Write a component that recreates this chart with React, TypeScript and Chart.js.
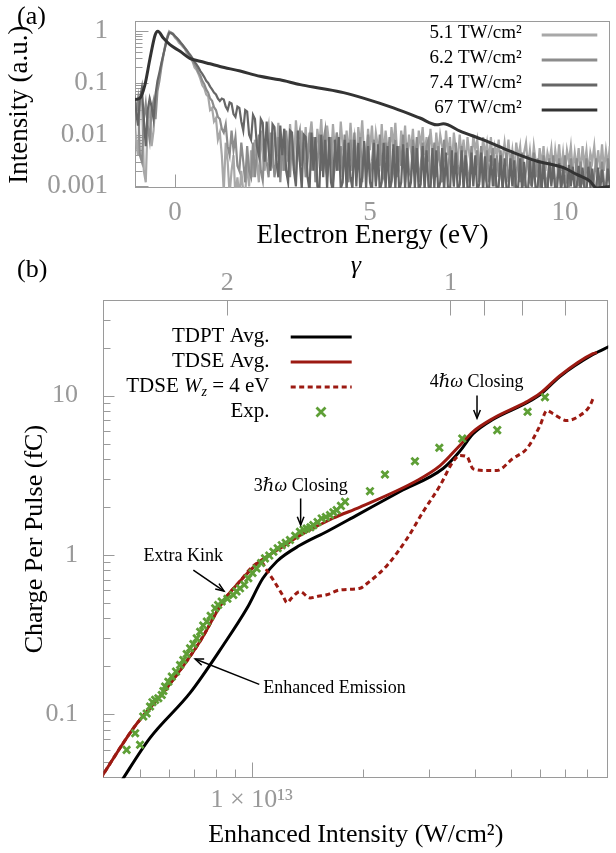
import React, { useEffect, useRef } from 'react';
import { Chart, registerables } from 'chart.js';

Chart.register(...registerables);

const SERIF = "'Liberation Serif', 'DejaVu Serif', serif";
const TICK_GRAY = '#999999';
const FRAME_GRAY = '#9a9a9a';

// ---------------- Panel (a): photoelectron spectra ----------------
const energyStart = -1.05; // eV, first sample of the measured spectra
const energyStep = 0.05; // eV between samples
const spectrum51 = [
  0.03, 0.008, 0.004, 0.04, 0.06, 0.002, 0.0012, 0.02, 0.035, 0.006,
  0.012, 0.05, 0.09, 0.14, 0.23, 0.35, 0.55, 0.8, 1.0, 0.93,
  0.86, 0.75, 0.69, 0.6, 0.56, 0.5, 0.46, 0.38, 0.34, 0.3,
  0.26, 0.2, 0.18, 0.15, 0.12, 0.09, 0.08, 0.06, 0.055, 0.03,
  0.033, 0.018, 0.021, 0.008, 0.011, 0.004, 0.0008, 0.007, 0.003, 0.0007,
  0.002, 0.004, 0.0006, 0.0015, 0.0006, 0.002, 0.0008, 0.0007, 0.003, 0.001,
  0.005,
  0.0015, 0.008, 0.003, 0.0012, 0.012, 0.004, 0.002, 0.009, 0.015, 0.003,
  0.0025, 0.011, 0.005, 0.017, 0.004, 0.002, 0.013, 0.006, 0.003, 0.016,
  0.005, 0.0025, 0.019, 0.007, 0.003, 0.012, 0.004, 0.014, 0.0035, 0.009,
  0.018, 0.005, 0.003, 0.013, 0.006, 0.02, 0.004, 0.0025, 0.015, 0.007,
  0.003, 0.016, 0.005, 0.011, 0.0035, 0.018, 0.006, 0.003, 0.012, 0.004,
  0.017, 0.005, 0.009, 0.0025, 0.014, 0.006, 0.019, 0.004, 0.003, 0.013,
  0.005, 0.015, 0.0035, 0.011, 0.006, 0.0025, 0.016, 0.004, 0.012, 0.005,
  0.003, 0.014, 0.006, 0.017, 0.004, 0.0025, 0.012, 0.005, 0.015, 0.003,
  0.01, 0.005, 0.013, 0.0035, 0.0025, 0.012, 0.006, 0.014, 0.004, 0.009,
  0.003, 0.013, 0.005, 0.0025, 0.011, 0.004, 0.01, 0.006, 0.003, 0.012,
  0.004, 0.009, 0.0025, 0.011, 0.005, 0.003, 0.01, 0.004, 0.008, 0.0025,
  0.009, 0.004, 0.0025, 0.01, 0.005, 0.008, 0.003, 0.0025, 0.009, 0.004,
  0.007, 0.003, 0.009, 0.0025, 0.006, 0.004, 0.008, 0.002, 0.0035, 0.007,
  0.003, 0.008, 0.0025, 0.005, 0.002, 0.007, 0.0035, 0.006, 0.002, 0.0045,
  0.007, 0.0025, 0.005, 0.002, 0.006, 0.003, 0.0018, 0.0055, 0.0025, 0.006,
  0.002, 0.0045, 0.003, 0.0055, 0.0018, 0.005, 0.0025, 0.0065, 0.002, 0.0045,
  0.0018, 0.005, 0.003, 0.006, 0.002, 0.0045, 0.0022, 0.0055, 0.0018, 0.006,
  0.0025, 0.005, 0.0018, 0.0045, 0.003, 0.006, 0.002, 0.005, 0.0022, 0.0065,
  0.002, 0.005, 0.0025, 0.006,
];
const spectrum62 = [
  0.01, 0.03, 0.05, 0.004, 0.003, 0.02, 0.04, 0.015, 0.008, 0.03,
  0.045, 0.02, 0.07, 0.11, 0.2, 0.33, 0.52, 0.75, 0.97, 0.95,
  0.9, 0.8, 0.72, 0.65, 0.58, 0.53, 0.47, 0.42, 0.36, 0.31,
  0.27, 0.23, 0.2, 0.16, 0.14, 0.11, 0.095, 0.075, 0.065, 0.05,
  0.045, 0.034, 0.03, 0.022, 0.02, 0.013, 0.011, 0.016, 0.006, 0.004,
  0.012, 0.005, 0.009, 0.0025, 0.002, 0.007, 0.003, 0.0012, 0.006, 0.002,
  0.0015,
  0.007, 0.0015, 0.005, 0.01, 0.002, 0.0013, 0.008, 0.003, 0.0015, 0.011,
  0.006, 0.0015, 0.003, 0.009, 0.0012, 0.008, 0.002, 0.012, 0.004, 0.0015,
  0.01, 0.002, 0.0015, 0.008, 0.012, 0.0025, 0.007, 0.0015, 0.003, 0.011,
  0.002, 0.009, 0.0012, 0.0025, 0.01, 0.002, 0.007, 0.012, 0.0015, 0.003,
  0.009, 0.0012, 0.0025, 0.011, 0.002, 0.006, 0.0015, 0.01, 0.003, 0.0012,
  0.008, 0.002, 0.011, 0.0015, 0.003, 0.009, 0.0012, 0.007, 0.002, 0.01,
  0.0015, 0.003, 0.008, 0.0012, 0.0025, 0.01, 0.002, 0.0015, 0.007, 0.0025,
  0.009, 0.0012, 0.002, 0.008, 0.0015, 0.006, 0.0025, 0.01, 0.0012, 0.007,
  0.002, 0.0015, 0.008, 0.0025, 0.009, 0.0012, 0.0025, 0.007, 0.0015, 0.006,
  0.008, 0.0012, 0.002, 0.007, 0.0015, 0.006, 0.0025, 0.0012, 0.008, 0.002,
  0.0015, 0.006, 0.002, 0.0012, 0.007, 0.0025, 0.0015, 0.006, 0.0012, 0.005,
  0.002, 0.0012, 0.006, 0.0015, 0.0025, 0.005, 0.0012, 0.006, 0.002, 0.0015,
  0.005, 0.0012, 0.0025, 0.0055, 0.001, 0.004, 0.0015, 0.005, 0.001, 0.002,
  0.0045, 0.0012, 0.0025, 0.005, 0.001, 0.0015, 0.004, 0.0012, 0.0045, 0.001,
  0.002, 0.004, 0.0012, 0.001, 0.0045, 0.0015, 0.0035, 0.001, 0.0012, 0.004,
  0.0015, 0.001, 0.0035, 0.0012, 0.004, 0.001, 0.0015, 0.0035, 0.001, 0.0012,
  0.004, 0.0012, 0.001, 0.0035, 0.0015, 0.0012, 0.0035, 0.001, 0.003, 0.0012,
  0.001, 0.0035, 0.0012, 0.003, 0.001, 0.0015, 0.0035, 0.001, 0.0012, 0.003,
  0.0012, 0.001, 0.0035, 0.0012,
];
const spectrum74 = [
  0.06, 0.03, 0.015, 0.05, 0.08, 0.02, 0.006, 0.03, 0.05, 0.035,
  0.02, 0.06, 0.11, 0.16, 0.24, 0.35, 0.5, 0.72, 0.93, 0.92,
  0.88, 0.8, 0.74, 0.67, 0.6, 0.54, 0.48, 0.43, 0.38, 0.34,
  0.3, 0.26, 0.23, 0.2, 0.17, 0.15, 0.13, 0.11, 0.1, 0.085,
  0.075, 0.065, 0.06, 0.05, 0.045, 0.05, 0.048, 0.035, 0.03, 0.042,
  0.04, 0.025, 0.022, 0.035, 0.033, 0.018, 0.012, 0.03, 0.028, 0.01,
  0.008,
  0.024, 0.02, 0.006, 0.004, 0.02, 0.017, 0.003, 0.018, 0.005, 0.002,
  0.016, 0.014, 0.003, 0.0015, 0.015, 0.004, 0.013, 0.002, 0.0012, 0.012,
  0.011, 0.002, 0.001, 0.012, 0.003, 0.0009, 0.01, 0.009, 0.0015, 0.0008,
  0.011, 0.002, 0.009, 0.001, 0.0008, 0.01, 0.0015, 0.008, 0.0009, 0.009,
  0.0012, 0.0008, 0.008, 0.002, 0.009, 0.0009, 0.0012, 0.008, 0.0008, 0.007,
  0.0015, 0.0009, 0.008, 0.001, 0.007, 0.0008, 0.0015, 0.0075, 0.0009, 0.006,
  0.0012, 0.0008, 0.007, 0.001, 0.0065, 0.0008, 0.0012, 0.007, 0.0009, 0.006,
  0.0008, 0.0013, 0.0065, 0.0009, 0.006, 0.0008, 0.0012, 0.0065, 0.0009, 0.0055,
  0.0008, 0.0012, 0.006, 0.0009, 0.0055, 0.0008, 0.0011, 0.006, 0.0008, 0.005,
  0.001, 0.0008, 0.0055, 0.0009, 0.005, 0.0008, 0.0012, 0.0055, 0.0008, 0.0045,
  0.0009, 0.0008, 0.005, 0.001, 0.0045, 0.0008, 0.0011, 0.005, 0.0008, 0.004,
  0.0009, 0.0008, 0.0045, 0.001, 0.004, 0.0008, 0.0011, 0.0045, 0.0008, 0.0038,
  0.0009, 0.0008, 0.004, 0.001, 0.0035, 0.0008, 0.001, 0.004, 0.0008, 0.0035,
  0.0009, 0.0008, 0.0035, 0.001, 0.0032, 0.0008, 0.001, 0.0035, 0.0008, 0.003,
  0.0009, 0.0008, 0.0032, 0.001, 0.003, 0.0008, 0.001, 0.003, 0.0008, 0.0028,
  0.0009, 0.0008, 0.003, 0.001, 0.0027, 0.0008, 0.001, 0.0028, 0.0008, 0.0025,
  0.0009, 0.0008, 0.0026, 0.001, 0.0024, 0.0008, 0.001, 0.0025, 0.0008, 0.0023,
  0.0009, 0.0008, 0.0024, 0.001, 0.0022, 0.0008, 0.001, 0.0023, 0.0008, 0.0021,
  0.0009, 0.0008, 0.0022, 0.001,
];
const energy67 = [
  -1.1, -1.03, -0.9, -0.77, -0.64, -0.51, -0.44, -0.3, -0.13, 0.13,
  0.38, 0.64, 0.9, 1.15, 1.67, 2.18, 2.69, 3.21, 3.72, 4.32,
  4.83, 5.6, 6.28, 6.71, 6.88, 7.31, 7.91, 8.59, 9.27, 9.96,
  10.3, 10.64, 10.81, 11.15,
];
const spectrum67 = [
  0.05, 0.048, 0.051, 0.093, 0.3, 0.85, 1.0, 0.74, 0.55, 0.41,
  0.3, 0.263, 0.235, 0.209, 0.17, 0.135, 0.115, 0.093, 0.079, 0.065,
  0.051, 0.033, 0.021, 0.0155, 0.0162, 0.0117, 0.0079, 0.0048, 0.0031, 0.0023,
  0.0017, 0.00126, 0.00093, 0.001,
];
const legendA = ['5.1 TW/cm²', '6.2 TW/cm²', '7.4 TW/cm²', '67 TW/cm²'];
const colorsA = ['#a8a8a8', '#8c8c8c', '#666666', '#333333'];
const energyTicks = [0, 5, 10];
const yieldTicksA = [0.001, 0.01, 0.1, 1];

// ---------------- Panel (b): charge vs enhanced intensity ----------------
// intensities in units of 10^12 W/cm², charge in fC
const tdptIntensity = [4.37, 5.32, 6.82, 8.38, 9.71, 10.72, 11.7, 13.49, 15.96, 19.23, 25.12, 32.81, 36.39, 39.54, 44.67, 55.21, 59.84, 67.76, 83.18, 92.5];
const tdptCharge = [0.0355, 0.071, 0.136, 0.271, 0.462, 0.713, 0.912, 1.148, 1.403, 1.778, 2.5, 3.483, 4.467, 5.754, 7.08, 9.02, 10.12, 13.18, 18.11, 20.42];

const tdseIntensity = [3.9, 4.79, 5.9, 7.26, 8.38, 9.29, 10.52, 11.91, 13.49, 16.56, 19.59, 27.93, 32.21, 36.39, 39.54, 44.67, 55.21, 59.84, 67.76, 83.18, 85.3];
const tdseCharge = [0.039, 0.0813, 0.1456, 0.287, 0.513, 0.682, 0.912, 1.096, 1.324, 1.698, 1.995, 2.931, 3.631, 4.864, 5.943, 7.178, 9.162, 10.3, 13.34, 18.32, 18.62];

const wz4Intensity = [3.9, 4.79, 5.9, 7.26, 8.38, 9.29, 10.21, 10.66, 10.93, 11.43, 12.16, 12.44, 12.82, 13.49, 14.36, 15.1, 15.93, 17.3, 19.59, 20.46, 23.17, 26.24, 28.97, 32.21, 34.91, 36.39, 38.02, 39.54, 43.05, 45.81, 50.58, 55.21, 59.84, 62.52, 64.86, 70.79, 76.74, 81.66, 83.18];
const wz4Charge = [0.039, 0.0813, 0.1456, 0.287, 0.513, 0.682, 0.871, 0.891, 0.813, 0.697, 0.55, 0.501, 0.537, 0.589, 0.537, 0.55, 0.562, 0.603, 0.617, 0.661, 0.859, 1.268, 1.862, 2.729, 3.855, 4.207, 4.14, 3.467, 3.388, 3.388, 4.027, 4.656, 6.457, 8.054, 7.709, 6.966, 7.499, 8.65, 9.55];

const expIntensity = [
  4.6, 5.0, 4.85, 5.1, 5.21, 5.32, 5.4, 5.49, 5.6, 5.72,
  5.78, 5.84, 5.96, 6.09, 6.25, 6.41, 6.54, 6.68, 6.82, 6.96,
  7.11, 7.26, 7.4, 7.57, 7.75, 7.97, 8.12, 8.3, 8.6, 8.92,
  9.1, 9.3, 9.55, 9.79, 10.05, 10.31, 10.6, 10.86, 11.15, 11.44,
  11.75, 12.05, 12.35, 12.68, 13.1, 13.49, 13.8, 14.07, 14.4, 14.66,
  15.05, 15.44, 15.85, 16.26, 16.6, 16.95, 17.4, 17.85, 20.84, 22.87,
  27.55, 32.05, 36.95, 45.92, 55.43, 61.75,
];
const expCharge = [
  0.0597, 0.0643, 0.076, 0.0968, 0.101, 0.1117, 0.119, 0.123, 0.126, 0.1321,
  0.14, 0.1493, 0.16, 0.1722, 0.185, 0.2037, 0.2188, 0.239, 0.2594, 0.276,
  0.2992, 0.3296, 0.36, 0.3811, 0.415, 0.4624, 0.485, 0.5093, 0.53, 0.5598,
  0.59, 0.6166, 0.65, 0.7129, 0.77, 0.8222, 0.89, 0.9506, 0.99, 1.047,
  1.1, 1.151, 1.19, 1.239, 1.32, 1.396, 1.44, 1.466, 1.49, 1.538,
  1.61, 1.694, 1.73, 1.778, 1.85, 1.91, 2.03, 2.158, 2.512, 3.199,
  3.873, 4.699, 5.37, 6.067, 7.907, 9.75,
];

const chargeTicks = [0.1, 1, 10];
const intensityTicksB = [5, 6, 7, 8, 9, 10, 20, 30, 40, 50, 60, 70, 80];
const intensityLabelsB: Record<number, string> = { 10: '1 × 10¹³' };
const gammaTicks = [2, 1, 0.9, 0.8, 0.7];
const gammaLabeled = [2, 1];
const gammaOneIntensity = 34.35; // 10^12 W/cm² where Keldysh γ = 1

const RED = '#9c1a12';
const GREEN = '#5e9f36';

type Part = { t: string; italic?: boolean; sub?: boolean };

const annotationsB: { parts: Part[]; at: [number, number]; align: 'left' | 'center'; from: [number, number]; to: [number, number] }[] = [
  { parts: [{ t: '4' }, { t: 'ℏω', italic: true }, { t: ' Closing' }], at: [40.4, 12.2], align: 'center', from: [40.5, 10.0], to: [40.5, 7.2] },
  { parts: [{ t: '3' }, { t: 'ℏω', italic: true }, { t: ' Closing' }], at: [13.56, 2.68], align: 'center', from: [13.55, 2.26], to: [13.55, 1.54] },
  { parts: [{ t: 'Extra Kink' }], at: [6.54, 0.974], align: 'center', from: [6.96, 0.803], to: [8.42, 0.593] },
  { parts: [{ t: 'Enhanced Emission' }], at: [10.75, 0.1456], align: 'left', from: [10.48, 0.154], to: [7.04, 0.222] },
];

const legendB: { parts: Part[]; kind: 'line' | 'dash' | 'cross'; color: string }[] = [
  { parts: [{ t: 'TDPT Avg.' }], kind: 'line', color: '#000000' },
  { parts: [{ t: 'TDSE Avg.' }], kind: 'line', color: RED },
  { parts: [{ t: 'TDSE ' }, { t: 'W', italic: true }, { t: 'z', italic: true, sub: true }, { t: ' = 4 eV' }], kind: 'dash', color: RED },
  { parts: [{ t: 'Exp.' }], kind: 'cross', color: GREEN },
];

// ---------------- helpers ----------------
const toXY = (xs: number[], ys: number[]) => xs.map((x, i) => ({ x, y: ys[i] }));

function minorLog(from: number, to: number): number[] {
  const out: number[] = [];
  for (let d = Math.floor(Math.log10(from)); d <= Math.ceil(Math.log10(to)); d++) {
    for (let k = 2; k <= 9; k++) {
      const v = k * Math.pow(10, d);
      if (v > from && v < to) out.push(v);
    }
  }
  return out;
}

function drawRich(ctx: CanvasRenderingContext2D, parts: Part[], x: number, y: number, size: number, align: 'left' | 'right' | 'center') {
  const fontFor = (p: Part) => `${p.italic ? 'italic ' : ''}${p.sub ? Math.round(size * 0.68) : size}px ${SERIF}`;
  const widths = parts.map((p) => {
    ctx.font = fontFor(p);
    return ctx.measureText(p.t).width;
  });
  const total = widths.reduce((a, b) => a + b, 0);
  let cx = align === 'left' ? x : align === 'right' ? x - total : x - total / 2;
  ctx.textAlign = 'left';
  ctx.textBaseline = 'middle';
  parts.forEach((p, i) => {
    ctx.font = fontFor(p);
    ctx.fillText(p.t, cx, p.sub ? y + size * 0.28 : y);
    cx += widths[i];
  });
}

function drawArrow(ctx: CanvasRenderingContext2D, x1: number, y1: number, x2: number, y2: number) {
  ctx.beginPath();
  ctx.moveTo(x1, y1);
  ctx.lineTo(x2, y2);
  ctx.stroke();
  const ang = Math.atan2(y2 - y1, x2 - x1);
  const L = 9;
  const w = 0.38;
  ctx.beginPath();
  ctx.moveTo(x2 - L * Math.cos(ang - w), y2 - L * Math.sin(ang - w));
  ctx.lineTo(x2, y2);
  ctx.lineTo(x2 - L * Math.cos(ang + w), y2 - L * Math.sin(ang + w));
  ctx.stroke();
}

type TickSpec = { scale: string; side: 'left' | 'bottom' | 'top'; values: number[]; len: number };

function drawFrame(chart: any, specs: TickSpec[]) {
  const { ctx, chartArea: a } = chart;
  ctx.save();
  ctx.strokeStyle = FRAME_GRAY;
  ctx.lineWidth = 1;
  const L = Math.round(a.left) + 0.5;
  const R = Math.round(a.right) - 0.5;
  const T = Math.round(a.top) + 0.5;
  const B = Math.round(a.bottom) - 0.5;
  ctx.strokeRect(L, T, R - L, B - T);
  ctx.beginPath();
  for (const s of specs) {
    const sc = chart.scales[s.scale];
    for (const v of s.values) {
      const p = Math.round(sc.getPixelForValue(v)) + 0.5;
      if (s.side === 'left') {
        if (p < T || p > B) continue;
        ctx.moveTo(L, p);
        ctx.lineTo(L + s.len, p);
      } else if (s.side === 'bottom') {
        if (p < L || p > R) continue;
        ctx.moveTo(p, B);
        ctx.lineTo(p, B - s.len);
      } else {
        if (p < L || p > R) continue;
        ctx.moveTo(p, T);
        ctx.lineTo(p, T + s.len);
      }
    }
  }
  ctx.stroke();
  ctx.restore();
}

const tickFont = (size: number) => ({ family: SERIF, size, lineHeight: 1.2 });
const hiddenGrid = (len: number) => ({ display: true, drawOnChartArea: false, drawTicks: true, tickLength: len, color: 'rgba(0,0,0,0)' });

export default function App() {
  const refA = useRef<HTMLCanvasElement>(null);
  const refB = useRef<HTMLCanvasElement>(null);

  useEffect(() => {
    const energyGrid = spectrum51.map((_, i) => +(energyStart + i * energyStep).toFixed(3));

    const chartA = new Chart(refA.current as HTMLCanvasElement, {
      type: 'line',
      data: {
        datasets: [
          { label: legendA[0], data: toXY(energyGrid, spectrum51), borderColor: colorsA[0], borderWidth: 2.2, pointRadius: 0, tension: 0, order: 3 },
          { label: legendA[1], data: toXY(energyGrid, spectrum62), borderColor: colorsA[1], borderWidth: 2.2, pointRadius: 0, tension: 0, order: 2 },
          { label: legendA[2], data: toXY(energyGrid, spectrum74), borderColor: colorsA[2], borderWidth: 2.2, pointRadius: 0, tension: 0, order: 1 },
          { label: legendA[3], data: toXY(energy67, spectrum67), borderColor: colorsA[3], borderWidth: 3, pointRadius: 0, cubicInterpolationMode: 'monotone', order: 0 },
        ] as any,
      },
      options: {
        animation: false,
        responsive: false,
        devicePixelRatio: 1,
        events: [],
        layout: { padding: { top: 21.3, right: 6, left: 0, bottom: 0 } },
        plugins: { legend: { display: false }, tooltip: { enabled: false } },
        scales: {
          x: {
            type: 'linear',
            min: -1.026,
            max: 11.154,
            afterBuildTicks: (s: any) => { s.ticks = energyTicks.map((v) => ({ value: v })); },
            afterFit: (s: any) => { s.height = 67; },
            ticks: { callback: (v: any) => String(v), font: tickFont(27), color: TICK_GRAY, padding: 0, autoSkip: false, maxRotation: 0, minRotation: 0 },
            grid: hiddenGrid(9),
            border: { display: false },
            title: { display: true, text: 'Electron Energy (eV)', font: tickFont(27), color: '#000', padding: { top: 0, bottom: 2.8 } },
          },
          y: {
            type: 'logarithmic',
            min: 0.00093,
            max: 1.56,
            afterBuildTicks: (s: any) => { s.ticks = yieldTicksA.map((v) => ({ value: v })); },
            afterFit: (s: any) => { s.width = 135; },
            ticks: { callback: (v: any) => String(v), font: tickFont(27), color: TICK_GRAY, padding: 0, autoSkip: false },
            grid: hiddenGrid(27),
            border: { display: false },
            title: { display: true, text: 'Intensity (a.u.)', font: tickFont(27), color: '#000', padding: { top: 3.8, bottom: 0 } },
          },
        },
      } as any,
      plugins: [
        {
          id: 'decorA',
          beforeDatasetsDraw(chart: any) {
            drawFrame(chart, [
              { scale: 'x', side: 'bottom', values: energyTicks, len: 13 },
              { scale: 'y', side: 'left', values: yieldTicksA, len: 13 },
              { scale: 'y', side: 'left', values: minorLog(0.001, 1), len: 7 },
            ]);
          },
          afterDraw(chart: any) {
            const ctx = chart.ctx as CanvasRenderingContext2D;
            ctx.save();
            ctx.fillStyle = '#000';
            drawRich(ctx, [{ t: '(a)' }], 17, 17, 26, 'left');
            legendA.forEach((label, i) => {
              const y = 33 + i * 25;
              drawRich(ctx, [{ t: label }], 521.7, y, 19, 'right');
              ctx.strokeStyle = colorsA[i];
              ctx.lineWidth = 3;
              ctx.beginPath();
              ctx.moveTo(541.7, y + 2);
              ctx.lineTo(597.3, y + 2);
              ctx.stroke();
            });
            ctx.restore();
          },
        },
      ],
    });

    const gammaIntensities = gammaTicks.map((g) => gammaOneIntensity / (g * g));

    const chartB = new Chart(refB.current as HTMLCanvasElement, {
      type: 'line',
      data: {
        datasets: [
          { label: 'Exp.', data: toXY(expIntensity, expCharge), showLine: false, pointStyle: 'crossRot', pointRadius: 5, pointBorderWidth: 2.8, pointBorderColor: GREEN, pointBackgroundColor: GREEN, borderColor: GREEN, order: 0 },
          { label: 'TDSE Avg.', data: toXY(tdseIntensity, tdseCharge), borderColor: RED, borderWidth: 3, pointRadius: 0, cubicInterpolationMode: 'monotone', order: 1 },
          { label: 'TDSE Wz = 4 eV', data: toXY(wz4Intensity, wz4Charge), borderColor: RED, borderWidth: 3, borderDash: [5, 3.5], pointRadius: 0, cubicInterpolationMode: 'monotone', order: 2 },
          { label: 'TDPT Avg.', data: toXY(tdptIntensity, tdptCharge), borderColor: '#000', borderWidth: 3, pointRadius: 0, cubicInterpolationMode: 'monotone', order: 3 },
        ] as any,
      },
      options: {
        animation: false,
        responsive: false,
        devicePixelRatio: 1,
        events: [],
        layout: { padding: { top: 0, right: 7.7, left: 0, bottom: 0 } },
        plugins: { legend: { display: false }, tooltip: { enabled: false } },
        scales: {
          x: {
            type: 'logarithmic',
            position: 'bottom',
            min: 3.98,
            max: 91.44,
            afterBuildTicks: (s: any) => { s.ticks = intensityTicksB.map((v) => ({ value: v })); },
            afterFit: (s: any) => { s.height = 74.7; },
            ticks: { callback: (v: any) => intensityLabelsB[v] || '', font: tickFont(26), color: TICK_GRAY, padding: 0, autoSkip: false, maxRotation: 0, minRotation: 0 },
            grid: hiddenGrid(6.1),
            border: { display: false },
            title: { display: true, text: 'Enhanced Intensity (W/cm²)', font: tickFont(26), color: '#000', padding: { top: 0, bottom: 2.4 } },
          },
          x2: {
            type: 'logarithmic',
            position: 'top',
            min: 3.98,
            max: 91.44,
            afterBuildTicks: (s: any) => { s.ticks = gammaIntensities.map((v) => ({ value: v })); },
            afterFit: (s: any) => { s.height = 50; },
            ticks: {
              callback: (v: any) => {
                const g = Math.sqrt(gammaOneIntensity / v);
                const hit = gammaLabeled.find((q) => Math.abs(q - g) < 1e-3);
                return hit !== undefined ? String(hit) : '';
              },
              font: tickFont(26), color: TICK_GRAY, padding: 0, autoSkip: false, maxRotation: 0, minRotation: 0,
            },
            grid: hiddenGrid(1.4),
            border: { display: false },
            title: { display: true, text: 'γ', font: { family: SERIF, size: 26, style: 'italic', lineHeight: 1.2 }, color: '#000', padding: { top: 0.4, bottom: 0 } },
          },
          y: {
            type: 'logarithmic',
            min: 0.0396,
            max: 39.8,
            afterBuildTicks: (s: any) => { s.ticks = chargeTicks.map((v) => ({ value: v })); },
            afterFit: (s: any) => { s.width = 103.3; },
            ticks: { callback: (v: any) => String(v), font: tickFont(26), color: TICK_GRAY, padding: 0, autoSkip: false },
            grid: hiddenGrid(25.3),
            border: { display: false },
            title: { display: true, text: 'Charge Per Pulse (fC)', font: tickFont(26), color: '#000', padding: { top: 19.4, bottom: 0 } },
          },
        },
      } as any,
      plugins: [
        {
          id: 'decorB',
          beforeDatasetsDraw(chart: any) {
            drawFrame(chart, [
              { scale: 'x', side: 'bottom', values: [10], len: 15 },
              { scale: 'x', side: 'bottom', values: intensityTicksB.filter((v) => v !== 10), len: 8 },
              { scale: 'x2', side: 'top', values: gammaIntensities, len: 15 },
              { scale: 'y', side: 'left', values: chargeTicks, len: 11 },
              { scale: 'y', side: 'left', values: minorLog(0.0396, 39.8), len: 7 },
            ]);
          },
          afterDraw(chart: any) {
            const ctx = chart.ctx as CanvasRenderingContext2D;
            const xs = chart.scales.x;
            const ys = chart.scales.y;
            ctx.save();
            ctx.fillStyle = '#000';
            drawRich(ctx, [{ t: '(b)' }], 17, 20, 26, 'left');

            // legend
            legendB.forEach((e, i) => {
              const y = 86 + i * 25;
              ctx.fillStyle = '#000';
              drawRich(ctx, e.parts, 269.5, y, 21, 'right');
              ctx.strokeStyle = e.color;
              ctx.lineWidth = e.kind === 'cross' ? 2.8 : 3;
              if (e.kind === 'cross') {
                const cx = 321;
                const r = 4.5;
                ctx.beginPath();
                ctx.moveTo(cx - r, y - r + 1);
                ctx.lineTo(cx + r, y + r + 1);
                ctx.moveTo(cx + r, y - r + 1);
                ctx.lineTo(cx - r, y + r + 1);
                ctx.stroke();
              } else {
                ctx.setLineDash(e.kind === 'dash' ? [5, 3.5] : []);
                ctx.beginPath();
                ctx.moveTo(290.7, y + 1);
                ctx.lineTo(351.7, y + 1);
                ctx.stroke();
                ctx.setLineDash([]);
              }
            });

            // annotations
            ctx.fillStyle = '#000';
            ctx.strokeStyle = '#000';
            ctx.lineWidth = 1.5;
            annotationsB.forEach((a) => {
              drawRich(ctx, a.parts, xs.getPixelForValue(a.at[0]), ys.getPixelForValue(a.at[1]), 18, a.align);
              drawArrow(
                ctx,
                xs.getPixelForValue(a.from[0]), ys.getPixelForValue(a.from[1]),
                xs.getPixelForValue(a.to[0]), ys.getPixelForValue(a.to[1]),
              );
            });
            ctx.restore();
          },
        },
      ],
    });

    return () => {
      chartA.destroy();
      chartB.destroy();
    };
  }, []);

  return (
    <div style={{ position: 'absolute', left: 0, top: 0, width: 616, height: 853, background: '#ffffff', overflow: 'hidden' }}>
      <canvas ref={refA} width={616} height={255} style={{ position: 'absolute', left: 0, top: 0, width: 616, height: 255 }} />
      <canvas ref={refB} width={616} height={603} style={{ position: 'absolute', left: 0, top: 250, width: 616, height: 603 }} />
    </div>
  );
}
